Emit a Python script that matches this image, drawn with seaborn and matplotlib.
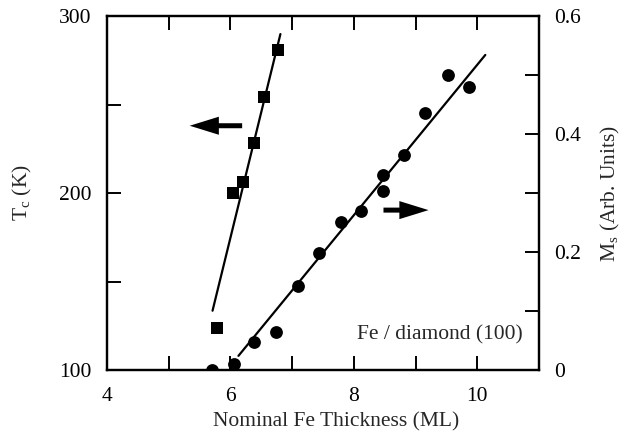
import numpy as np
import matplotlib
matplotlib.use("Agg")
import matplotlib.pyplot as plt
import seaborn as sns

# ---- data ----
tc_x = [5.78, 6.04, 6.21, 6.38, 6.55, 6.77]
tc_y = [124, 200, 206, 228, 254, 281]
tc_fit_x = [5.71, 6.81]
tc_fit_y = [133.5, 289.8]

ms_x = [5.70, 6.05, 6.39, 6.74, 7.10, 7.43, 7.79, 8.12, 8.48, 8.48, 8.81, 9.16, 9.52, 9.86]
ms_y = [0.0, 0.010, 0.048, 0.064, 0.142, 0.198, 0.251, 0.270, 0.331, 0.303, 0.364, 0.435, 0.500, 0.480]
ms_fit_x = [6.13, 10.13]
ms_fit_y = [0.024, 0.534]

x_ticks = [4, 5, 6, 7, 8, 9, 10, 11]
x_labels = ["4", "", "6", "", "8", "", "10", ""]
tc_ticks = [100, 150, 200, 250, 300]
tc_labels = ["100", "", "200", "", "300"]
ms_ticks = [0, 0.1, 0.2, 0.3, 0.4, 0.5, 0.6]
ms_labels = ["0", "", "0.2", "", "0.4", "", "0.6"]

sns.set_theme(style="ticks")
plt.rcParams['font.family'] = ['Liberation Serif', 'DejaVu Serif']
plt.rcParams['mathtext.fontset'] = 'custom'
plt.rcParams['mathtext.rm'] = 'Liberation Serif'
plt.rcParams['mathtext.it'] = 'Liberation Serif:italic'

FS = 15.5
fig = plt.figure(figsize=(6.24, 4.34), dpi=100)
ax = fig.add_axes([107/624, 1-370/434, (539-107)/624, (370-16)/434])
ax2 = ax.twinx()

sns.lineplot(x=tc_fit_x, y=tc_fit_y, ax=ax, color='black', lw=1.6)
sns.scatterplot(x=tc_x, y=tc_y, ax=ax, marker='s', s=72, color='black',
                edgecolor='black', linewidth=0, zorder=5)
sns.lineplot(x=ms_fit_x, y=ms_fit_y, ax=ax2, color='black', lw=1.6)
sns.scatterplot(x=ms_x, y=ms_y, ax=ax2, marker='o', s=85, color='black',
                edgecolor='black', linewidth=0, zorder=5)

ax.set_xlim(4, 11)
ax.set_ylim(100, 300)
ax2.set_ylim(0, 0.6)

ax.set_xticks(x_ticks)
ax.set_xticklabels(x_labels)
ax.set_yticks(tc_ticks)
ax.set_yticklabels(tc_labels)
ax2.set_yticks(ms_ticks)
ax2.set_yticklabels(ms_labels)

for a in (ax, ax2):
    for s in a.spines.values():
        s.set_linewidth(1.6)
        s.set_color('black')
        s.set_visible(True)
ax.tick_params(axis='x', direction='in', top=True, bottom=True, length=10, width=1.4,
               labelsize=FS, pad=12, colors='black')
ax.tick_params(axis='y', direction='in', left=True, right=False, length=10, width=1.4,
               labelsize=FS, pad=11, colors='black')
ax2.tick_params(axis='y', direction='in', right=True, left=False, length=10, width=1.4,
                labelsize=FS, pad=11, colors='black')

ax.set_xlabel("Nominal Fe Thickness (ML)", fontsize=FS)
ax.xaxis.set_label_coords(0.53, -0.12, transform=ax.transAxes)
ax.xaxis.label.set_va('top')
ax.set_ylabel(r"$\mathregular{T_c}$ (K)", fontsize=FS, labelpad=18)
ax2.set_ylabel(r"$\mathregular{M_s}$ (Arb. Units)", fontsize=FS, labelpad=13)

# arrows
arrow_kw = dict(width=3.6, headwidth=13, headlength=21, facecolor='black',
                edgecolor='none', linewidth=0, shrink=0)
ax.annotate("", xy=(5.34, 238), xytext=(6.19, 238), arrowprops=arrow_kw)
ax2.annotate("", xy=(9.21, 0.271), xytext=(8.48, 0.271), arrowprops=arrow_kw)

ax2.text(10.73, 0.06, "Fe / diamond (100)", ha='right', va='center', fontsize=FS)

fig.savefig("out.png", dpi=100)
